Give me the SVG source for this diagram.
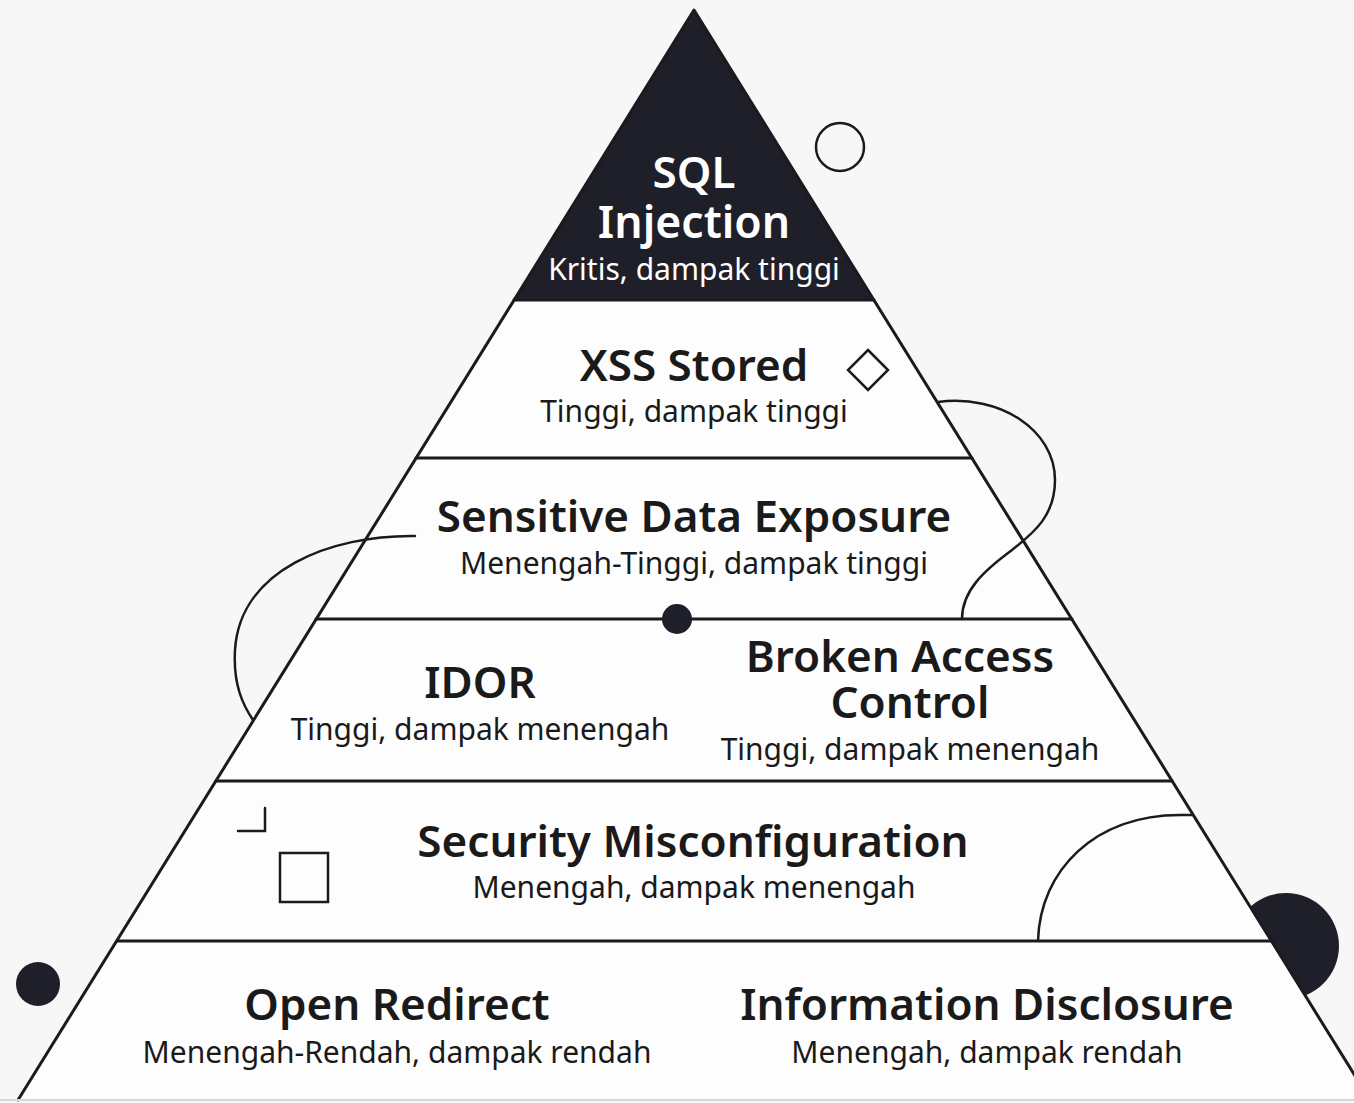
<svg xmlns="http://www.w3.org/2000/svg" width="1354" height="1103" viewBox="0 0 1354 1103">
  <defs>
    <style>
      .edge { fill: none; stroke: #1a1a1f; stroke-width: 3; stroke-linecap: round; stroke-linejoin: round; }
      .deco { fill: none; stroke: #1a1a1f; stroke-width: 2.5; stroke-linecap: round; }
      .ink { fill: #1f1f29; }
      .title { font-family: "Noto Sans", "Open Sans", sans-serif; font-weight: 600; font-size: 44px; fill: #1a1a1a; text-anchor: middle; }
      .sub { font-family: "Noto Sans", "Open Sans", sans-serif; font-weight: 400; font-size: 30px; fill: #1a1a1a; text-anchor: middle; }
      .light { fill: #ffffff; }
    </style>
  </defs>

  <!-- page -->
  <rect width="1354" height="1103" fill="#f7f7f7"/>

  <!-- filled disc behind the right flank (only the outer part shows) -->
  <circle class="ink" cx="1286" cy="946" r="53"/>

  <!-- pyramid body -->
  <polygon points="694,10 1370,1100 18,1100" fill="#fdfdfd"/>
  <!-- apex tier -->
  <polygon class="ink" points="694,10 874,300 514,300"/>

  <!-- tier outlines -->
  <g id="connectors">
    <polyline class="edge" points="18,1100 694,10 1370,1100"/>
    <line class="edge" x1="514" y1="300" x2="874" y2="300"/>
    <line class="edge" x1="416" y1="458" x2="972" y2="458"/>
    <line class="edge" x1="316" y1="619" x2="1072" y2="619"/>
    <line class="edge" x1="216" y1="781" x2="1172" y2="781"/>
    <line class="edge" x1="117" y1="941" x2="1271" y2="941"/>
    <line x1="0" y1="1100" x2="1354" y2="1100" stroke="#d6d6d6" stroke-width="2"/>
  </g>

  <!-- decorative marks -->
  <g id="decorations">
    <circle class="deco" cx="840" cy="147" r="24"/>
    <polygon class="deco" points="868,350 888,370 868,390 848,370"/>
    <path class="deco" d="M 938 402 C 1000 394, 1055 430, 1055 480 C 1055 515, 1035 532, 1012 550 C 985 570, 962 590, 962 619"/>
    <path class="deco" d="M 415 536 C 330 535, 240 570, 235 650 C 233 685, 243 705, 253 720"/>
    <circle class="ink" cx="677" cy="619" r="15"/>
    <path class="deco" d="M 265 808 V 831 H 238"/>
    <rect class="deco" x="280" y="853" width="48" height="49"/>
    <path class="deco" d="M 1038 941 C 1040 870, 1095 815, 1180 815 L 1192 815"/>
    <circle class="ink" cx="38" cy="984" r="22"/>
  </g>

  <g id="sql-injection">
    <text class="title light" x="694" y="188" font-size="45"><tspan x="694">SQL</tspan><tspan x="694" dy="50" font-size="44.5">Injection</tspan></text>
    <text class="sub light" x="694" y="280">Kritis, dampak tinggi</text>
  </g>

  <g id="xss-stored">
    <text class="title" x="694" y="381">XSS Stored</text>
    <text class="sub" x="694" y="422">Tinggi, dampak tinggi</text>
  </g>

  <g id="sensitive-data-exposure">
    <text class="title" x="694" y="532">Sensitive Data Exposure</text>
    <text class="sub" x="694" y="574">Menengah-Tinggi, dampak tinggi</text>
  </g>

  <g id="idor">
    <text class="title" x="480" y="698">IDOR</text>
    <text class="sub" x="480" y="740">Tinggi, dampak menengah</text>
  </g>

  <g id="broken-access-control">
    <text class="title" x="900" y="672"><tspan x="900">Broken Access</tspan><tspan x="910" dy="46">Control</tspan></text>
    <text class="sub" x="910" y="760">Tinggi, dampak menengah</text>
  </g>

  <g id="security-misconfiguration">
    <text class="title" x="693" y="857">Security Misconfiguration</text>
    <text class="sub" x="694" y="898">Menengah, dampak menengah</text>
  </g>

  <g id="open-redirect">
    <text class="title" x="397" y="1020">Open Redirect</text>
    <text class="sub" x="397" y="1063">Menengah-Rendah, dampak rendah</text>
  </g>

  <g id="information-disclosure">
    <text class="title" x="987" y="1020">Information Disclosure</text>
    <text class="sub" x="987" y="1063">Menengah, dampak rendah</text>
  </g>
</svg>
